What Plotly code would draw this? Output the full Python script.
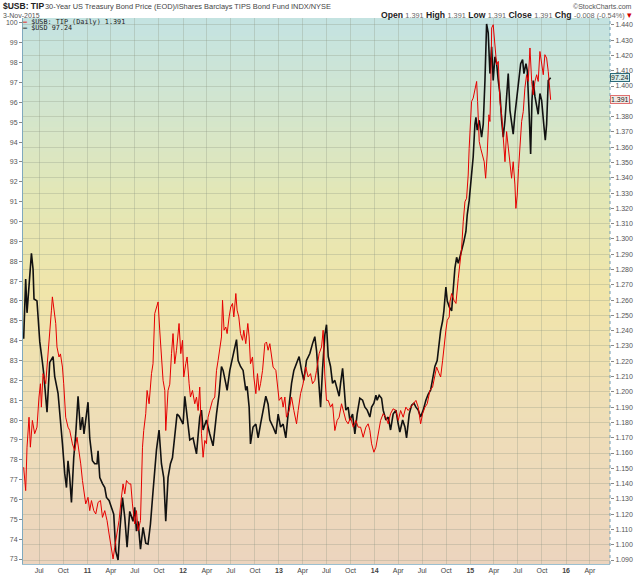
import pandas as pd
import plotly.graph_objects as go

# --- data (time as decimal year) ---
# $USD / 30-Year Treasury Bond price, left axis (black)
usb_year = [
    2010.334, 2010.355, 2010.369, 2010.390, 2010.415, 2010.432, 2010.442, 2010.473, 2010.502, 2010.530,
    2010.543, 2010.578, 2010.606, 2010.641, 2010.658, 2010.693, 2010.711, 2010.739, 2010.763, 2010.781,
    2010.797, 2010.815, 2010.833, 2010.857, 2010.878, 2010.902, 2010.927, 2010.948, 2010.964, 2010.990,
    2011.006, 2011.024, 2011.052, 2011.076, 2011.100, 2011.111, 2011.129, 2011.157, 2011.181, 2011.199,
    2011.226, 2011.251, 2011.275, 2011.296, 2011.320, 2011.338, 2011.366, 2011.390, 2011.414, 2011.442,
    2011.476, 2011.494, 2011.512, 2011.529, 2011.554, 2011.581, 2011.609, 2011.633, 2011.658, 2011.685,
    2011.703, 2011.721, 2011.748, 2011.773, 2011.797, 2011.818, 2011.842, 2011.867, 2011.888, 2011.912,
    2011.936, 2011.957, 2011.999,
    2012.017, 2012.034, 2012.051, 2012.069, 2012.103, 2012.139, 2012.173, 2012.191, 2012.208, 2012.243,
    2012.278, 2012.312, 2012.348, 2012.375, 2012.400, 2012.417, 2012.445, 2012.459, 2012.487, 2012.515,
    2012.539, 2012.557, 2012.574, 2012.599, 2012.626, 2012.654, 2012.668, 2012.689, 2012.703, 2012.730,
    2012.759, 2012.783, 2012.808, 2012.835, 2012.863, 2012.887, 2012.905, 2012.939, 2012.968, 2012.992,
    2013.017, 2013.044, 2013.072, 2013.096, 2013.132, 2013.156, 2013.184, 2013.211, 2013.236, 2013.260,
    2013.288, 2013.323, 2013.351, 2013.375, 2013.393, 2013.420, 2013.435, 2013.456, 2013.480, 2013.497,
    2013.515, 2013.539, 2013.560, 2013.584, 2013.608, 2013.629, 2013.644, 2013.665, 2013.678, 2013.699,
    2013.723, 2013.741, 2013.769, 2013.793, 2013.817, 2013.845, 2013.874, 2013.898, 2013.922, 2013.950,
    2013.968, 2013.992,
    2014.013, 2014.026, 2014.047, 2014.072, 2014.089, 2014.117, 2014.141, 2014.166, 2014.193, 2014.222,
    2014.246, 2014.263, 2014.292, 2014.316, 2014.333, 2014.361, 2014.386, 2014.410, 2014.431, 2014.455,
    2014.480, 2014.507, 2014.535, 2014.559, 2014.584, 2014.611, 2014.629, 2014.653, 2014.674, 2014.689,
    2014.710, 2014.723, 2014.744, 2014.758, 2014.779, 2014.804, 2014.821, 2014.838, 2014.856, 2014.873,
    2014.898, 2014.918, 2014.932, 2014.953, 2014.967, 2014.987,
    2015.012, 2015.029, 2015.047, 2015.058, 2015.071, 2015.092, 2015.117, 2015.134, 2015.152, 2015.169,
    2015.186, 2015.204, 2015.222, 2015.238, 2015.256, 2015.274, 2015.291, 2015.308, 2015.326, 2015.343,
    2015.361, 2015.378, 2015.395, 2015.413, 2015.430, 2015.447, 2015.465, 2015.489, 2015.510, 2015.525,
    2015.545, 2015.559, 2015.580, 2015.594, 2015.614, 2015.629, 2015.643, 2015.656, 2015.674, 2015.692,
    2015.708, 2015.726, 2015.744, 2015.768, 2015.782, 2015.796, 2015.813, 2015.838,
]
usb_close = [
    84.1, 87.1, 85.4, 87.0, 88.4, 87.6, 86.1, 86.0, 83.95, 82.9,
    82.35, 80.4, 82.9, 83.2, 82.2, 81.35, 80.15, 78.8, 77.3, 76.6,
    77.95, 77.1, 75.85, 78.1, 79.3, 81.2, 79.5, 80.15, 79.3, 80.15,
    80.9, 79.1, 77.95, 77.8, 77.8, 78.45, 77.1, 76.8, 76.6, 76.1,
    75.95, 75.6, 75.25, 73.4, 72.95, 74.4, 76.1, 75.1, 73.6, 75.4,
    74.9, 75.6, 74.4, 74.9, 73.5, 74.6, 73.8, 73.75, 74.75, 76.4,
    77.45, 78.5, 79.5, 77.8, 77.1, 74.9, 77.1, 77.8, 78.1, 79.3,
    80.3, 80.2, 79.8,
    81.2, 80.5, 79.5, 79.0, 79.1, 78.3, 80.15, 80.5, 79.5, 80.0,
    79.3, 78.7, 80.3, 81.3, 82.7, 82.5, 81.85, 81.5, 82.5, 83.2,
    83.7, 84.05, 83.0, 82.7, 82.5, 81.5, 81.7, 80.65, 78.8, 79.65,
    79.8, 79.1, 79.8, 80.5, 81.2, 80.8, 80.0, 79.65, 79.3, 80.3,
    79.65, 79.8, 79.1, 80.3, 81.85, 82.5, 82.85, 83.2, 82.5, 82.0,
    83.0, 83.35, 83.85, 84.2, 83.5, 81.5, 80.65, 82.6, 84.3, 84.8,
    83.2, 82.7, 81.85, 82.0, 81.5, 81.2, 81.85, 82.6, 81.85, 80.5,
    80.65, 80.0, 80.3, 79.3, 80.3, 81.1, 81.0, 80.65, 80.5, 80.15,
    80.65, 80.85,
    81.25, 81.0, 81.25, 81.1, 80.5, 80.0, 80.15, 79.5, 80.3, 80.5,
    79.8, 79.4, 80.0, 79.65, 79.1, 80.3, 80.75, 80.85, 80.65, 80.5,
    80.15, 80.5, 81.0, 81.3, 81.5, 82.2, 82.7, 83.0, 84.05, 84.5,
    85.0, 85.5, 86.7, 86.0, 85.7, 85.5, 86.6, 87.65, 88.2, 87.9,
    88.35, 88.7, 89.0, 89.5, 90.35, 91.05,
    92.4, 93.25, 94.9, 95.25, 94.6, 95.1, 94.25, 94.9, 97.1, 99.95,
    99.5, 97.45, 98.8, 97.1, 98.3, 97.95, 97.1, 96.45, 95.1, 94.25,
    95.1, 96.6, 97.45, 95.6, 95.1, 94.4, 95.4, 96.45, 97.1, 97.95,
    98.15, 97.45, 97.95, 97.6, 95.4, 93.4, 96.1, 97.1, 96.3, 95.9,
    95.4, 96.45, 96.1, 94.8, 94.1, 94.9, 97.1, 97.24,
]

# $USB:TIP ratio, right axis (red)
ratio_year = [
    2010.334, 2010.355, 2010.369, 2010.390, 2010.404, 2010.425, 2010.449, 2010.473, 2010.494, 2010.509,
    2010.519, 2010.536, 2010.564, 2010.588, 2010.606, 2010.624, 2010.634, 2010.648, 2010.669, 2010.682,
    2010.703, 2010.718, 2010.739, 2010.752, 2010.773, 2010.797, 2010.815, 2010.843, 2010.867, 2010.891,
    2010.912, 2010.930, 2010.948, 2010.964, 2010.982,
    2011.006, 2011.024, 2011.042, 2011.066, 2011.087, 2011.111, 2011.136, 2011.157, 2011.181, 2011.205,
    2011.226, 2011.251, 2011.268, 2011.285, 2011.303, 2011.330, 2011.355, 2011.372, 2011.390, 2011.408,
    2011.435, 2011.453, 2011.470, 2011.494, 2011.512, 2011.529, 2011.554, 2011.575, 2011.588, 2011.609,
    2011.623, 2011.644, 2011.669, 2011.685, 2011.703, 2011.721, 2011.738, 2011.755, 2011.773, 2011.790,
    2011.808, 2011.818, 2011.842, 2011.860, 2011.878, 2011.894, 2011.912, 2011.930, 2011.957, 2011.975,
    2011.993,
    2012.006, 2012.027, 2012.041, 2012.062, 2012.076, 2012.097, 2012.121, 2012.139, 2012.156, 2012.173,
    2012.191, 2012.208, 2012.226, 2012.243, 2012.260, 2012.278, 2012.306, 2012.330, 2012.348, 2012.365,
    2012.383, 2012.400, 2012.411, 2012.427, 2012.445, 2012.459, 2012.480, 2012.497, 2012.515, 2012.529,
    2012.550, 2012.563, 2012.581, 2012.599, 2012.620, 2012.633, 2012.654, 2012.675, 2012.689, 2012.703,
    2012.724, 2012.738, 2012.759, 2012.776, 2012.793, 2012.808, 2012.829, 2012.853, 2012.870, 2012.887,
    2012.905, 2012.923, 2012.939, 2012.968, 2012.981,
    2013.002, 2013.027, 2013.044, 2013.062, 2013.079, 2013.107, 2013.132, 2013.156, 2013.184, 2013.201,
    2013.226, 2013.253, 2013.281, 2013.305, 2013.330, 2013.351, 2013.375, 2013.393, 2013.420, 2013.445,
    2013.462, 2013.480, 2013.497, 2013.515, 2013.539, 2013.560, 2013.584, 2013.608, 2013.629, 2013.654,
    2013.678, 2013.699, 2013.723, 2013.748, 2013.776, 2013.804, 2013.828, 2013.853, 2013.880, 2013.908,
    2013.932, 2013.950, 2013.968, 2013.992,
    2014.013, 2014.037, 2014.062, 2014.089, 2014.117, 2014.141, 2014.166, 2014.193, 2014.222, 2014.246,
    2014.271, 2014.298, 2014.326, 2014.350, 2014.375, 2014.402, 2014.431, 2014.455, 2014.480, 2014.501,
    2014.525, 2014.549, 2014.577, 2014.605, 2014.629, 2014.647, 2014.674, 2014.689, 2014.710, 2014.723,
    2014.744, 2014.758, 2014.779, 2014.786, 2014.804, 2014.828, 2014.849, 2014.873, 2014.898, 2014.908,
    2014.925, 2014.943, 2014.960, 2014.977, 2014.987,
    2015.002, 2015.012, 2015.029, 2015.047, 2015.065, 2015.075, 2015.092, 2015.107, 2015.127, 2015.144,
    2015.159, 2015.175, 2015.193, 2015.204, 2015.214, 2015.222, 2015.238, 2015.256, 2015.274, 2015.291,
    2015.308, 2015.326, 2015.343, 2015.361, 2015.378, 2015.395, 2015.413, 2015.430, 2015.447, 2015.465,
    2015.475, 2015.489, 2015.503, 2015.517, 2015.535, 2015.552, 2015.569, 2015.587, 2015.604, 2015.622,
    2015.640, 2015.656, 2015.674, 2015.692, 2015.708, 2015.726, 2015.744, 2015.761, 2015.778, 2015.796,
    2015.813, 2015.838,
]
ratio_close = [
    1.1507, 1.1354, 1.1638, 1.1834, 1.1638, 1.1813, 1.1726, 1.1769, 1.1966, 1.2053,
    1.1900, 1.2119, 1.2053, 1.2228, 1.2403, 1.2534, 1.2621, 1.2555, 1.2447, 1.2293,
    1.2228, 1.2248, 1.2162, 1.2053, 1.1834, 1.1769, 1.1748, 1.1660, 1.1616, 1.1703,
    1.1616, 1.1529, 1.1420, 1.1354, 1.1267,
    1.1310, 1.1223, 1.1289, 1.1223, 1.1201, 1.1277, 1.1289, 1.1179, 1.1223, 1.1158,
    1.1070, 1.0983, 1.0907, 1.0983, 1.1048, 1.1158, 1.1310, 1.1398, 1.1333, 1.1420,
    1.1398, 1.1398, 1.1267, 1.1136, 1.1223, 1.1092, 1.1158, 1.1638, 1.1747, 1.1857,
    1.2009, 1.1922, 1.2119, 1.2184, 1.2512, 1.2555, 1.2588, 1.2403, 1.2206, 1.2075,
    1.2009, 1.1747, 1.2009, 1.2050, 1.2250, 1.2381, 1.2184, 1.2272, 1.2447, 1.2250,
    1.2337,
    1.2097, 1.2184, 1.2228, 1.2053, 1.1966, 1.2009, 1.1922, 1.1966, 1.1878, 1.2031,
    1.1726, 1.1572, 1.1682, 1.1660, 1.1834, 1.1878, 1.1944, 1.1966, 1.2140, 1.2206,
    1.2293, 1.2359, 1.2599, 1.2403, 1.2424, 1.2381, 1.2490, 1.2555, 1.2578, 1.2490,
    1.2643, 1.2534, 1.2490, 1.2381, 1.2337, 1.2403, 1.2315, 1.2447, 1.2359, 1.2184,
    1.2228, 1.2097, 1.1988, 1.2119, 1.2009, 1.2053, 1.2140, 1.2315, 1.2326, 1.2272,
    1.2315, 1.2228, 1.2162, 1.2140, 1.2053,
    1.1944, 1.1966, 1.1900, 1.1966, 1.1834, 1.1878, 1.1966, 1.1878, 1.1791, 1.1878,
    1.1988, 1.2053, 1.2162, 1.2097, 1.2119, 1.2053, 1.2075, 1.2140, 1.2250, 1.2293,
    1.2403, 1.2100, 1.1944, 1.1944, 1.1900, 1.1922, 1.1747, 1.1813, 1.1834, 1.1922,
    1.1857, 1.1813, 1.1791, 1.1834, 1.1769, 1.1813, 1.1769, 1.1769, 1.1703, 1.1769,
    1.1791, 1.1747, 1.1660, 1.1605,
    1.1638, 1.1726, 1.1813, 1.1857, 1.1834, 1.1791, 1.1857, 1.1889, 1.1878, 1.1813,
    1.1878, 1.1834, 1.1900, 1.1878, 1.1900, 1.1922, 1.1944, 1.1900, 1.1791, 1.1857,
    1.1900, 1.1922, 1.2009, 1.2031, 1.2119, 1.2162, 1.2119, 1.2097, 1.2206, 1.2293,
    1.2403, 1.2468, 1.2490, 1.2588, 1.2643, 1.2599, 1.2578, 1.2741, 1.2872, 1.2938,
    1.3112, 1.3243, 1.3266, 1.3418, 1.3593,
    1.3768, 1.3899, 1.3921, 1.3986, 1.4030, 1.3899, 1.3637, 1.3593, 1.3549, 1.3505,
    1.3397, 1.3549, 1.3812, 1.3768, 1.4030, 1.4380, 1.4401, 1.4249, 1.4139, 1.4161,
    1.3899, 1.3812, 1.3637, 1.3505, 1.3702, 1.3593, 1.3462, 1.3397, 1.3505, 1.3353,
    1.3200, 1.3287, 1.3462, 1.3637, 1.3768, 1.3833, 1.3986, 1.4074, 1.4030, 1.4249,
    1.4030, 1.3943, 1.4030, 1.4074, 1.4030, 1.4226, 1.4139, 1.4074, 1.4205, 1.4183,
    1.4095, 1.3910,
]

tick_dates = [
    "2010-07-01", "2010-10-01",
    "2011-01-01", "2011-04-01", "2011-07-01", "2011-10-01",
    "2012-01-01", "2012-04-01", "2012-07-01", "2012-10-01",
    "2013-01-01", "2013-04-01", "2013-07-01", "2013-10-01",
    "2014-01-01", "2014-04-01", "2014-07-01", "2014-10-01",
    "2015-01-01", "2015-04-01", "2015-07-01", "2015-10-01",
    "2016-01-01", "2016-04-01",
]
tick_labels = [
    "Jul", "Oct",
    "<b>11</b>", "Apr", "Jul", "Oct",
    "<b>12</b>", "Apr", "Jul", "Oct",
    "<b>13</b>", "Apr", "Jul", "Oct",
    "<b>14</b>", "Apr", "Jul", "Oct",
    "<b>15</b>", "Apr", "Jul", "Oct",
    "<b>16</b>", "Apr",
]
left_ticks = list(range(73, 101))
right_ticks = [
    1.09, 1.10, 1.11, 1.12, 1.13, 1.14, 1.15, 1.16, 1.17, 1.18, 1.19, 1.20,
    1.21, 1.22, 1.23, 1.24, 1.25, 1.26, 1.27, 1.28, 1.29, 1.30, 1.31, 1.32,
    1.33, 1.34, 1.35, 1.36, 1.37, 1.38, 1.39, 1.40, 1.41, 1.42, 1.43, 1.44,
]


def to_dates(years):
    base = pd.Timestamp("2010-01-01")
    return [base + pd.Timedelta(days=(y - 2010) * 365.25) for y in years]


FONT = "Liberation Sans"
GRID = "rgba(140,150,130,0.30)"

fig = go.Figure()

fig.add_trace(go.Scatter(
    x=to_dates(usb_year), y=usb_close, mode="lines",
    line=dict(color="#111111", width=1.6), name="$USD", yaxis="y",
))
fig.add_trace(go.Scatter(
    x=to_dates(ratio_year), y=ratio_close, mode="lines",
    line=dict(color="#e60000", width=1.0), name="$USB:TIP", yaxis="y2",
))

# background: vertical gradient teal -> yellow -> peach, drawn as thin bands
bg_stops = [
    (0.00, (236, 212, 190)),
    (0.25, (238, 221, 184)),
    (0.50, (240, 229, 170)),
    (0.68, (226, 231, 183)),
    (0.85, (209, 229, 208)),
    (1.00, (196, 227, 226)),
]


def bg_color(f):
    for (f0, c0), (f1, c1) in zip(bg_stops[:-1], bg_stops[1:]):
        if f0 <= f <= f1:
            k = (f - f0) / (f1 - f0)
            return "rgb({},{},{})".format(*[round(a + (b - a) * k) for a, b in zip(c0, c1)])
    return "rgb({},{},{})".format(*bg_stops[-1][1])


n_bands = 90
shapes = []
for i in range(n_bands):
    shapes.append(dict(
        type="rect", xref="x domain", yref="y domain",
        x0=0, x1=1, y0=i / n_bands, y1=min(1, (i + 1.3) / n_bands),
        fillcolor=bg_color((i + 0.5) / n_bands), line=dict(width=0), layer="below",
    ))
# dotted right axis line
shapes.append(dict(type="line", xref="x domain", yref="y domain", x0=1, x1=1, y0=0, y1=1,
                   line=dict(color="#6f9cb5", width=1, dash="dot")))

ann = []
# header
ann.append(dict(xref="paper", yref="paper", x=0, y=1, xanchor="left", yanchor="middle",
                xshift=-22, yshift=12, showarrow=False,
                text="<b>$USB: TIP</b>", font=dict(family=FONT, size=8.5, color="#222")))
ann.append(dict(xref="paper", yref="paper", x=0, y=1, xanchor="left", yanchor="middle",
                xshift=20, yshift=11.5, showarrow=False,
                text="30-Year US Treasury Bond Price (EOD)/iShares Barclays TIPS Bond Fund INDX/NYSE",
                font=dict(family=FONT, size=7.4, color="#444")))
ann.append(dict(xref="paper", yref="paper", x=0, y=1, xanchor="left", yanchor="middle",
                xshift=-22, yshift=3, showarrow=False,
                text="3-Nov-2015", font=dict(family=FONT, size=7, color="#555")))
ann.append(dict(xref="paper", yref="paper", x=1, y=1, xanchor="right", yanchor="middle",
                xshift=24, yshift=12, showarrow=False,
                text="©StockCharts.com", font=dict(family=FONT, size=7, color="#555")))
ohlc = ("<b>Open</b> <span style='color:#666;font-size:7.3px'>1.391</span> "
        "<b>High</b> <span style='color:#666;font-size:7.3px'>1.391</span> "
        "<b>Low</b> <span style='color:#666;font-size:7.3px'>1.391</span> "
        "<b>Close</b> <span style='color:#666;font-size:7.3px'>1.391</span> "
        "<b>Chg</b> <span style='color:#666;font-size:7.3px'>-0.008 (-0.54%)</span> "
        "<span style='color:#d00000'>▾</span>")
ann.append(dict(xref="paper", yref="paper", x=1, y=1, xanchor="right", yanchor="middle",
                xshift=24, yshift=3, showarrow=False,
                text=ohlc, font=dict(family=FONT, size=8.6, color="#222")))

# legend inside plot
ann.append(dict(xref="paper", yref="paper", x=0, y=1, xanchor="left", yanchor="middle",
                xshift=-2, yshift=-3.5, showarrow=False,
                text="<span style='color:#e60000'><b>–</b></span> $USB: TIP (Daily) %.3f" % ratio_close[-1],
                font=dict(family="DejaVu Sans Mono", size=6.8, color="#222")))
ann.append(dict(xref="paper", yref="paper", x=0, y=1, xanchor="left", yanchor="middle",
                xshift=-2, yshift=-9.5, showarrow=False,
                text="<span style='color:#111'><b>–</b></span> $USD %.2f" % usb_close[-1],
                font=dict(family="DejaVu Sans Mono", size=6.8, color="#222")))

# last-value boxes on the right axis
ann.append(dict(xref="paper", yref="y", x=1, y=usb_close[-1], xanchor="left", yanchor="middle",
                showarrow=False, text="%.2f" % usb_close[-1],
                font=dict(family=FONT, size=7, color="#222"),
                bgcolor="#d8edea", bordercolor="#2d6a7a", borderwidth=1, borderpad=0))
ann.append(dict(xref="paper", yref="y2", x=1, y=ratio_close[-1], xanchor="left", yanchor="middle",
                showarrow=False, text="%.3f" % ratio_close[-1],
                font=dict(family=FONT, size=7, color="#222"),
                bgcolor="#f3e9e4", bordercolor="#e07070", borderwidth=1, borderpad=0))

tick_font = dict(family=FONT, size=7, color="#555")

fig.update_layout(
    width=640, height=576,
    margin=dict(l=23, r=30, t=18, b=12, autoexpand=False),
    paper_bgcolor="white",
    plot_bgcolor="rgba(0,0,0,0)",
    showlegend=False,
    shapes=shapes,
    annotations=ann,
    xaxis=dict(
        type="date", automargin=False,
        range=to_dates([2010.327, 2016.458]),
        tickmode="array", tickvals=tick_dates, ticktext=tick_labels,
        showgrid=True, gridcolor=GRID, gridwidth=1,
        showline=True, linecolor="#9cbfcf", linewidth=1,
        ticks="", tickfont=dict(family=FONT, size=7, color="#444"),
        zeroline=False,
    ),
    yaxis=dict(
        automargin=False,
        range=[72.75, 100.25],
        tickmode="array", tickvals=left_ticks, ticktext=[str(v) for v in left_ticks],
        showgrid=False, zeroline=False,
        showline=True, linecolor="#7fa9be", linewidth=1,
        ticks="outside", ticklen=3, tickcolor="#888", tickfont=tick_font,
    ),
    yaxis2=dict(
        overlaying="y", side="right", automargin=False,
        range=[1.0874, 1.4445],
        tickmode="array", tickvals=right_ticks, ticktext=["%.3f" % v for v in right_ticks],
        showgrid=True, gridcolor=GRID, gridwidth=1, zeroline=False,
        showline=False,
        ticks="outside", ticklen=3, tickcolor="#888", tickfont=tick_font,
    ),
)

# the page's default 8px body margin would shift the whole chart
fig.write_html("out.html", config={"displayModeBar": False},
               post_script="document.body.style.margin='0';")
